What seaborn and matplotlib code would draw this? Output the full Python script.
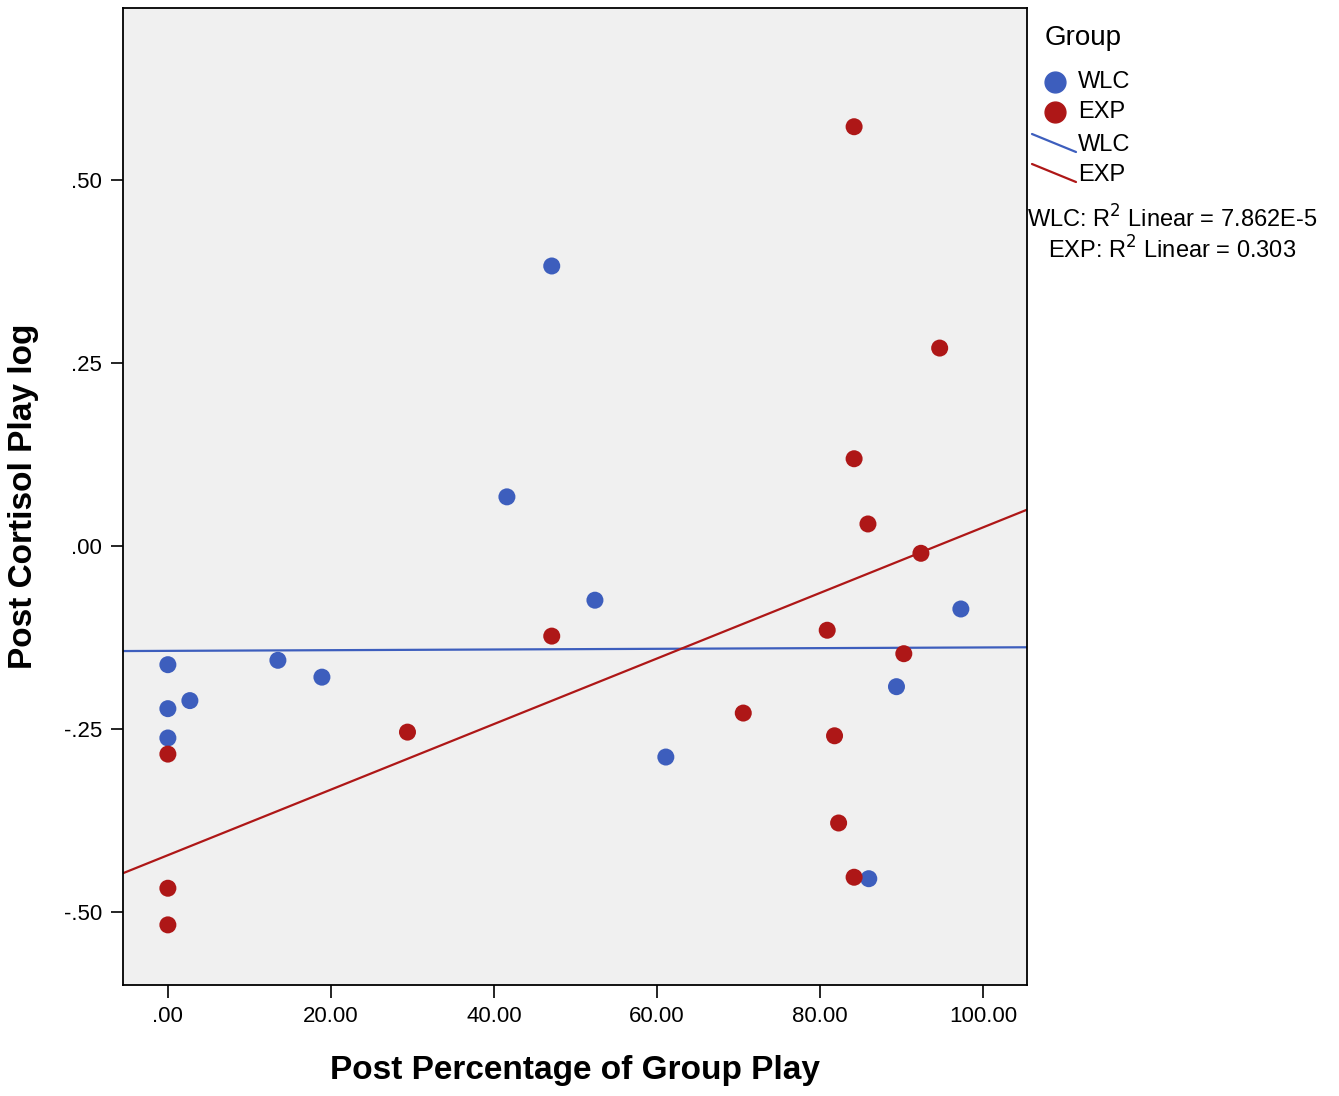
import matplotlib
matplotlib.use("Agg")
import matplotlib.pyplot as plt
from matplotlib.lines import Line2D
import numpy as np
import pandas as pd
import seaborn as sns

# values
wlc_x = [0, 0, 0, 2.7, 13.5, 18.9, 41.6, 47.1, 52.4, 61.1, 86.0, 89.4, 97.3]
wlc_y = [-0.162, -0.222, -0.262, -0.211, -0.156, -0.179, 0.067, 0.382,
         -0.074, -0.288, -0.454, -0.192, -0.086]
exp_x = [0, 0, 0, 29.4, 47.1, 70.6, 80.9, 81.8, 82.3, 84.2, 84.2, 84.2,
         85.9, 90.3, 92.4, 94.7]
exp_y = [-0.284, -0.467, -0.517, -0.254, -0.123, -0.228, -0.115, -0.259,
         -0.378, 0.572, 0.119, -0.452, 0.030, -0.147, -0.010, 0.270]
groups = ["WLC", "EXP"]
r2_text = ["WLC: R$^2$ Linear = 7.862E-5", "EXP: R$^2$ Linear = 0.303"]
x_ticks = [0, 20, 40, 60, 80, 100]
x_tick_labels = [".00", "20.00", "40.00", "60.00", "80.00", "100.00"]
y_ticks = [-0.5, -0.25, 0, 0.25, 0.5]
y_tick_labels = ["-.50", "-.25", ".00", ".25", ".50"]

colors = {"WLC": "#3d5ebd", "EXP": "#ae1717"}

df = pd.concat([
    pd.DataFrame({"x": wlc_x, "y": wlc_y, "Group": "WLC"}),
    pd.DataFrame({"x": exp_x, "y": exp_y, "Group": "EXP"}),
])

sns.set_style("white")
plt.rcParams["font.family"] = ["Liberation Sans", "DejaVu Sans"]
plt.rcParams["text.color"] = "black"
plt.rcParams["axes.labelcolor"] = "black"
plt.rcParams["xtick.color"] = "black"
plt.rcParams["ytick.color"] = "black"

fig = plt.figure(figsize=(13.39, 10.96), dpi=100)
ax = fig.add_axes([0.0919, 0.1013, 0.675, 0.8914])
ax.set_facecolor("#f0f0f0")
ax.set_xlim(-5.5, 105.4)
ax.set_ylim(-0.599, 0.734)

sns.scatterplot(data=df, x="x", y="y", hue="Group", palette=colors,
                s=150, edgecolor="none", legend=False, ax=ax, zorder=3)
for g in groups:
    sub = df[df.Group == g]
    sns.regplot(data=sub, x="x", y="y", scatter=False, ci=None,
                truncate=False, color=colors[g], line_kws={"lw": 1.6},
                ax=ax)
ax.set_xlim(-5.5, 105.4)
ax.set_ylim(-0.599, 0.734)

ax.set_xticks(x_ticks)
ax.set_xticklabels(x_tick_labels)
ax.set_yticks(y_ticks)
ax.set_yticklabels(y_tick_labels)
ax.tick_params(direction="out", length=9, width=1.2, labelsize=16,
               bottom=True, left=True, color="black", pad=6)
for sp in ax.spines.values():
    sp.set_color("black")
    sp.set_linewidth(1.3)
ax.set_xlabel("Post Percentage of Group Play", fontsize=24,
              fontweight="bold", labelpad=20)
ax.set_ylabel("Post Cortisol Play log", fontsize=24, fontweight="bold",
              labelpad=18)

# legend drawn to the right, SPSS style
fig.text(1045 / 1339, 1 - 38 / 1096, "Group", fontsize=20, va="center")
for i, g in enumerate(groups):
    yy = 1 - (82 + 30 * i) / 1096
    fig.add_artist(Line2D([1055 / 1339], [yy], marker="o", ms=15,
                          color=colors[g], lw=0))
    fig.text(1078 / 1339, yy, g, fontsize=17, va="center")
for i, g in enumerate(groups):
    y0 = 1 - (134 + 30 * i) / 1096
    y1 = 1 - (152 + 30 * i) / 1096
    fig.add_artist(Line2D([1032 / 1339, 1076 / 1339], [y0, y1],
                          color=colors[g], lw=1.6))
    fig.text(1078 / 1339, 1 - (145 + 30 * i) / 1096, g, fontsize=17,
             va="center")
fig.text(1172 / 1339, 1 - 219 / 1096, r2_text[0], fontsize=17,
         va="center", ha="center")
fig.text(1172 / 1339, 1 - 250 / 1096, r2_text[1], fontsize=17,
         va="center", ha="center")

fig.savefig("out.png", dpi=100)
